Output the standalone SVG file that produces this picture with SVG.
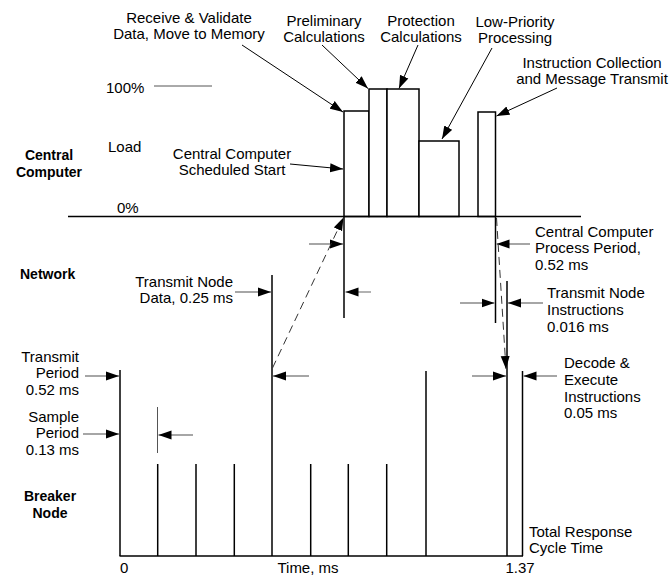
<svg xmlns="http://www.w3.org/2000/svg" width="670" height="578" viewBox="0 0 670 578">
<style>
text{font-family:"Liberation Sans",Arial,sans-serif;font-size:15px;fill:#000}
.b{font-weight:bold;font-size:14px}
.m{text-anchor:middle}
.e{text-anchor:end}
.bar{fill:#fff;stroke:#000;stroke-width:1.5}
.ax{stroke:#000;stroke-width:1.5;fill:none}
.ld{stroke:#000;stroke-width:1;fill:none;marker-end:url(#ah)}
.lg{stroke:#888;stroke-width:1.3;fill:none;marker-end:url(#ah)}
.ds{stroke:#333;stroke-width:1;fill:none;stroke-dasharray:8 5;marker-end:url(#ah)}
.thin{stroke:#555;stroke-width:1;fill:none}
</style>
<defs>
<marker id="ah" markerUnits="userSpaceOnUse" markerWidth="14" markerHeight="10" refX="13" refY="5" orient="auto">
<path d="M0,0.5 L13,5 L0,9.5 z" fill="#000"/>
</marker>
</defs>
<g id="central-computer">
<text class="b m" x="49" y="160">Central</text>
<text class="b m" x="49" y="177">Computer</text>
<text x="106" y="93">100%</text>
<line class="thin" x1="154" y1="86" x2="212" y2="86"/>
<text x="108" y="152">Load</text>
<text x="117" y="213">0%</text>
</g>
<g id="bars">
<rect class="bar" x="344" y="111" width="25" height="105.5"/>
<rect class="bar" x="369" y="89" width="18" height="127.5"/>
<rect class="bar" x="387" y="89" width="32" height="127.5"/>
<rect class="bar" x="419" y="141" width="40" height="75.5"/>
<rect class="bar" x="478" y="112" width="17.5" height="104.5"/>
</g>
<g id="top-labels">
<text class="m" x="189" y="23">Receive &amp; Validate</text>
<text class="m" x="189" y="39">Data, Move to Memory</text>
<text class="m" x="324" y="26">Preliminary</text>
<text class="m" x="324" y="42">Calculations</text>
<text class="m" x="421" y="26">Protection</text>
<text class="m" x="421" y="42">Calculations</text>
<text class="m" x="515" y="27">Low-Priority</text>
<text class="m" x="515" y="43">Processing</text>
<text class="m" x="592" y="68">Instruction Collection</text>
<text class="m" x="592" y="84">and Message Transmit</text>
<text class="m" x="232" y="159">Central Computer</text>
<text class="m" x="232" y="175">Scheduled Start</text>
</g>
<g id="network">
<text class="b" x="20" y="279">Network</text>
<text class="e" x="233" y="287">Transmit Node</text>
<text class="e" x="233" y="303">Data, 0.25 ms</text>
<text x="535" y="237">Central Computer</text>
<text x="535" y="253">Process Period,</text>
<text x="535" y="270">0.52 ms</text>
<text x="547" y="298">Transmit Node</text>
<text x="547" y="315">Instructions</text>
<text x="547" y="332">0.016 ms</text>
<text x="564" y="368">Decode &amp;</text>
<text x="564" y="385">Execute</text>
<text x="564" y="402">Instructions</text>
<text x="564" y="418">0.05 ms</text>
</g>
<g id="breaker-node">
<text class="e" x="79" y="362">Transmit</text>
<text class="e" x="79" y="378">Period</text>
<text class="e" x="79" y="395">0.52 ms</text>
<text class="e" x="79" y="422">Sample</text>
<text class="e" x="79" y="438">Period</text>
<text class="e" x="79" y="455">0.13 ms</text>
<text class="b m" x="50" y="501">Breaker</text>
<text class="b m" x="50" y="518">Node</text>
<text x="120" y="573">0</text>
<text class="m" x="308" y="573">Time, ms</text>
<text class="m" x="520" y="573">1.37</text>
<text x="529" y="537">Total Response</text>
<text x="529" y="553">Cycle Time</text>
</g>
<g id="connectors">
<line class="ax" x1="68" y1="216.5" x2="581" y2="216.5"/>
<line class="ax" x1="344" y1="216" x2="344" y2="318"/>
<line class="ax" x1="495.5" y1="216" x2="495.5" y2="323"/>
<line class="ax" x1="272" y1="275" x2="272" y2="556"/>
<line class="ax" x1="507" y1="281" x2="507" y2="556"/>
<line class="ax" x1="522.5" y1="371" x2="522.5" y2="556"/>
<line class="ax" x1="426" y1="371" x2="426" y2="556"/>
<line class="ax" x1="120" y1="370" x2="120" y2="556"/>
<line class="ax" x1="157.7" y1="464" x2="157.7" y2="556"/>
<line class="ax" x1="196" y1="464" x2="196" y2="556"/>
<line class="ax" x1="234.3" y1="464" x2="234.3" y2="556"/>
<line class="ax" x1="310.7" y1="464" x2="310.7" y2="556"/>
<line class="ax" x1="348.3" y1="464" x2="348.3" y2="556"/>
<line class="ax" x1="386.7" y1="464" x2="386.7" y2="556"/>
<line class="ax" x1="119.5" y1="556" x2="523" y2="556"/>
<line class="thin" x1="157.5" y1="407" x2="157.5" y2="453"/>
<line class="ld" x1="242" y1="45" x2="343" y2="112"/>
<line class="ld" x1="322" y1="45" x2="368" y2="88.5"/>
<line class="ld" x1="418" y1="45" x2="399" y2="88.5"/>
<line class="ld" x1="492" y1="48" x2="442" y2="139"/>
<line class="ld" x1="557" y1="88" x2="496.5" y2="116"/>
<line class="ld" x1="290" y1="164" x2="343" y2="169"/>
<line class="lg" x1="309" y1="244" x2="343" y2="244"/>
<line class="lg" x1="371" y1="292" x2="345.5" y2="292"/>
<line class="lg" x1="235" y1="292" x2="271" y2="292"/>
<line class="lg" x1="309" y1="376" x2="273" y2="376"/>
<line class="lg" x1="530" y1="244" x2="496.5" y2="244"/>
<line class="lg" x1="460" y1="303" x2="494.5" y2="303"/>
<line class="lg" x1="543" y1="303" x2="508" y2="303"/>
<line class="lg" x1="472" y1="376" x2="506" y2="376"/>
<line class="lg" x1="557" y1="376" x2="523.5" y2="376"/>
<line class="lg" x1="85" y1="376" x2="119" y2="376"/>
<line class="lg" x1="83" y1="434" x2="119" y2="434"/>
<line class="lg" x1="193" y1="435" x2="158.5" y2="435"/>
<line class="ds" x1="272.5" y1="368" x2="343.5" y2="217.5"/>
<line class="ds" x1="496.5" y1="218" x2="506" y2="369"/>
</g>
</svg>
